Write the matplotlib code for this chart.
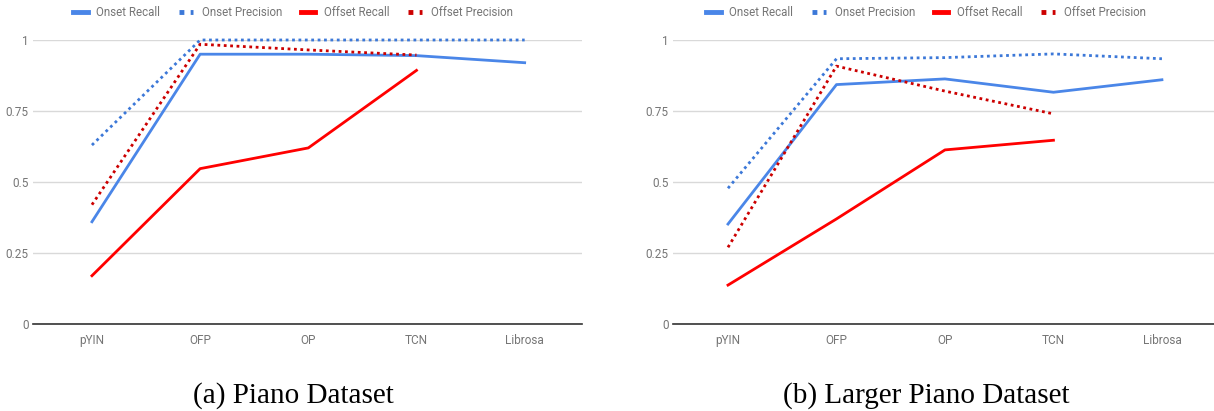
import matplotlib.pyplot as plt

methods = ["pYIN", "OFP", "OP", "TCN", "Librosa"]
yticks = [0, 0.25, 0.5, 0.75, 1]
ytick_labels = ["0", "0.25", "0.5", "0.75", "1"]

# (a) Piano Dataset
a_onset_recall = [0.36, 0.95, 0.95, 0.945, 0.92]
a_onset_precision = [0.63, 1.0, 1.0, 1.0, 1.0]
a_offset_recall = [0.17, 0.547, 0.62, 0.893]
a_offset_precision = [0.42, 0.985, 0.965, 0.947]

# (b) Larger Piano Dataset
b_onset_recall = [0.352, 0.843, 0.863, 0.816, 0.86]
b_onset_precision = [0.478, 0.934, 0.938, 0.951, 0.934]
b_offset_recall = [0.137, 0.37, 0.613, 0.647]
b_offset_precision = [0.27, 0.908, 0.82, 0.74]

captions = ["(a) Piano Dataset", "(b) Larger Piano Dataset"]

blue = "#4a86e8"
blue_dot = "#3c78d8"
red = "#ff0000"
red_dot = "#cc0000"
dotted = (0, (1, 1.3))

W, H = 1214, 411
fig = plt.figure(figsize=(W / 100, H / 100), dpi=100)

panels = [
    ([33 / W, 87 / H, 549 / W, 284 / H], (-0.545, 4.53), 293,
     a_onset_recall, a_onset_precision, a_offset_recall, a_offset_precision),
    ([673 / W, 87 / H, 541 / W, 284 / H], (-0.507, 4.48), 926,
     b_onset_recall, b_onset_precision, b_offset_recall, b_offset_precision),
]

for i, (pos, xlim, cx, on_r, on_p, off_r, off_p) in enumerate(panels):
    ax = fig.add_axes(pos)
    x5 = list(range(len(methods)))
    x4 = x5[:len(off_r)]
    ax.plot(x5, on_r, color=blue, lw=2, label="Onset Recall", clip_on=False, zorder=3)
    ax.plot(x5, on_p, color=blue_dot, lw=2, ls=dotted, label="Onset Precision", clip_on=False, zorder=3)
    ax.plot(x4, off_r, color=red, lw=2, label="Offset Recall", clip_on=False, zorder=3)
    ax.plot(x4, off_p, color=red_dot, lw=2, ls=dotted, label="Offset Precision", clip_on=False, zorder=3)

    ax.set_xlim(*xlim)
    ax.set_ylim(0, 1)
    ax.set_xticks(x5)
    ax.set_xticklabels(methods)
    ax.set_yticks(yticks)
    ax.set_yticklabels(ytick_labels)
    ax.tick_params(length=0, labelsize=8.5, colors="#757575")
    ax.tick_params(axis="y", pad=3)
    ax.tick_params(axis="x", pad=7)
    for lab in ax.get_xticklabels() + ax.get_yticklabels():
        lab.set_fontfamily("Roboto")
    ax.grid(axis="y", color="#d9d9d9", lw=1)
    ax.set_axisbelow(True)
    for s in ["top", "right", "left"]:
        ax.spines[s].set_visible(False)
    ax.spines["bottom"].set_color("#333333")
    ax.spines["bottom"].set_linewidth(1.2)

    leg = ax.legend(loc="center", bbox_to_anchor=(cx / W, 1 - 13 / H),
                    bbox_transform=fig.transFigure, ncol=4,
                    frameon=False, handlelength=1.25, handletextpad=0.75,
                    columnspacing=1.6, borderpad=0,
                    prop={"family": "Roboto", "size": 8.3})
    for t in leg.get_texts():
        t.set_color("#757575")
    for h in leg.get_lines():
        h.set_linewidth(3.5)

    fig.text(cx / W, 1 - 396 / H, captions[i],
             ha="center", va="center", fontsize=21, family="Liberation Serif")

fig.savefig("out.png", dpi=100)
